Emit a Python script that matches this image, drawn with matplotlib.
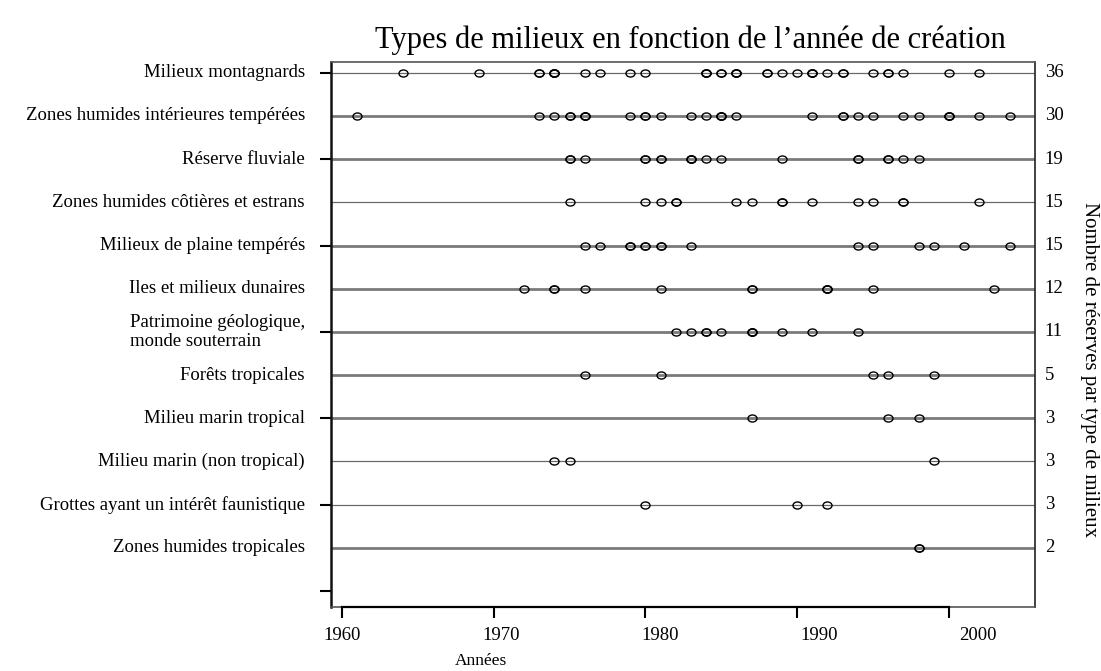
import numpy as np
import matplotlib
matplotlib.use("Agg")
import matplotlib.pyplot as plt
from matplotlib.path import Path
from matplotlib.markers import MarkerStyle
from matplotlib.transforms import Affine2D, blended_transform_factory

plt.rcParams["font.family"] = ["Liberation Serif", "DejaVu Serif"]

# one row per type of environment, top to bottom
MILIEUX = [
    "Milieux montagnards",
    "Zones humides intérieures tempérées",
    "Réserve fluviale",
    "Zones humides côtières et estrans",
    "Milieux de plaine tempérés",
    "Iles et milieux dunaires",
    "Patrimoine géologique,\nmonde souterrain",
    "Forêts tropicales",
    "Milieu marin tropical",
    "Milieu marin (non tropical)",
    "Grottes ayant un intérêt faunistique",
    "Zones humides tropicales",
]

# creation years (repeated years = several reserves the same year)
montagnards = [1964, 1969, 1973, 1973, 1974, 1974, 1974, 1974, 1976, 1977, 1979, 1980,
               1984, 1984, 1984, 1985, 1985, 1986, 1986, 1986, 1988, 1988, 1989, 1990,
               1991, 1991, 1991, 1992, 1993, 1993, 1995, 1996, 1996, 1997, 2000, 2002]
humides_int = [1961, 1973, 1974, 1975, 1975, 1976, 1976, 1976, 1979, 1980, 1980, 1981,
               1983, 1984, 1985, 1985, 1985, 1986, 1991, 1993, 1993, 1994, 1995, 1997,
               1998, 2000, 2000, 2000, 2002, 2004]
fluviale = [1975, 1975, 1976, 1980, 1980, 1981, 1981, 1983, 1983, 1983, 1984, 1985,
            1989, 1994, 1994, 1996, 1996, 1997, 1998]
cotieres = [1975, 1980, 1981, 1982, 1982, 1986, 1987, 1989, 1989, 1991, 1994, 1995,
            1997, 1997, 2002]
plaine = [1976, 1977, 1979, 1979, 1980, 1980, 1981, 1981, 1983, 1994, 1995, 1998,
          1999, 2001, 2004]
iles = [1972, 1974, 1974, 1976, 1981, 1987, 1987, 1992, 1992, 1992, 1995, 2003]
geologique = [1982, 1983, 1984, 1984, 1985, 1987, 1987, 1987, 1989, 1991, 1994]
forets = [1976, 1981, 1995, 1996, 1999]
marin_trop = [1987, 1996, 1998]
marin_non_trop = [1974, 1975, 1999]
grottes = [1980, 1990, 1992]
humides_trop = [1998, 1998]

YEARS = [montagnards, humides_int, fluviale, cotieres, plaine, iles, geologique,
         forets, marin_trop, marin_non_trop, grottes, humides_trop]
X_TICKS = [1960, 1970, 1980, 1990, 2000]

THICK_ROWS = {1, 2, 4, 5, 6, 7, 8, 11}

# slightly flattened open circle, like the original device
ellipse = Path.unit_circle().transformed(Affine2D().scale(1.0, 0.78))
marker = MarkerStyle(ellipse)

fig = plt.figure(figsize=(11.01, 6.71), dpi=100)
ax = fig.add_axes([331 / 1101, 1 - 607 / 671, 704 / 1101, 545 / 671])

n = len(MILIEUX)
for i, (name, yrs) in enumerate(zip(MILIEUX, YEARS)):
    if i in THICK_ROWS:
        ax.axhline(i, color="#7a7a7a", lw=2.0, zorder=1)
    else:
        ax.axhline(i, color="#6a6a6a", lw=0.9, zorder=1)
    ax.plot(yrs, [i] * len(yrs), linestyle="none", marker=marker, ms=6.5,
            mfc="none", mec="black", mew=1.0, zorder=3)

ax.set_xlim(1959.27, 2005.68)
ax.set_ylim(n - 1 + 1.37, -0.25)

# left: row names as text, plain ticks on a separate regular grid
trans_y = blended_transform_factory(ax.transAxes, ax.transData)
for i, name in enumerate(MILIEUX):
    ax.text(-0.037, i, name, transform=trans_y, ha="right", va="center",
            fontsize=13.5, multialignment="left")
    ax.text(1.014, i, str(len(YEARS[i])), transform=trans_y, ha="left",
            va="center", fontsize=13.5)

ax.set_yticks(np.arange(0, 13, 2))
ax.set_yticklabels([])
ax.tick_params(axis="y", direction="out", length=8, width=1.5, color="black")

# bottom axis: ticks on the data scale, labels drift as in the original
ax.set_xticks(X_TICKS)
ax.set_xticklabels([])
ax.tick_params(axis="x", direction="out", length=8, width=1.5, color="black")
trans_x = blended_transform_factory(ax.transData, ax.transAxes)
for yr in X_TICKS:
    ax.text(yr + (yr - 1960) * 0.048, -0.052, str(yr), transform=trans_x,
            ha="center", va="center", fontsize=13.5)
ax.plot([1960, 2000], [0, 0], transform=trans_x, color="black", lw=1.6,
        clip_on=False, zorder=5)

for side in ["top", "bottom"]:
    ax.spines[side].set_color("#555555")
    ax.spines[side].set_linewidth(1.2)
ax.spines["left"].set_color("#111111")
ax.spines["left"].set_linewidth(1.8)
ax.spines["right"].set_color("#222222")
ax.spines["right"].set_linewidth(1.2)

fig.text(690 / 1101, 1 - 40 / 671, "Types de milieux en fonction de l\u2019année de création",
         ha="center", va="center", fontsize=22)
fig.text(481 / 1101, 1 - 661 / 671, "Années", ha="center", va="center", fontsize=12.5)
fig.text(1090 / 1101, 1 - 370 / 671, "Nombre de réserves par type de milieux",
         rotation=270, ha="center", va="center", fontsize=15)

fig.savefig("out.png", dpi=100, facecolor="white")
